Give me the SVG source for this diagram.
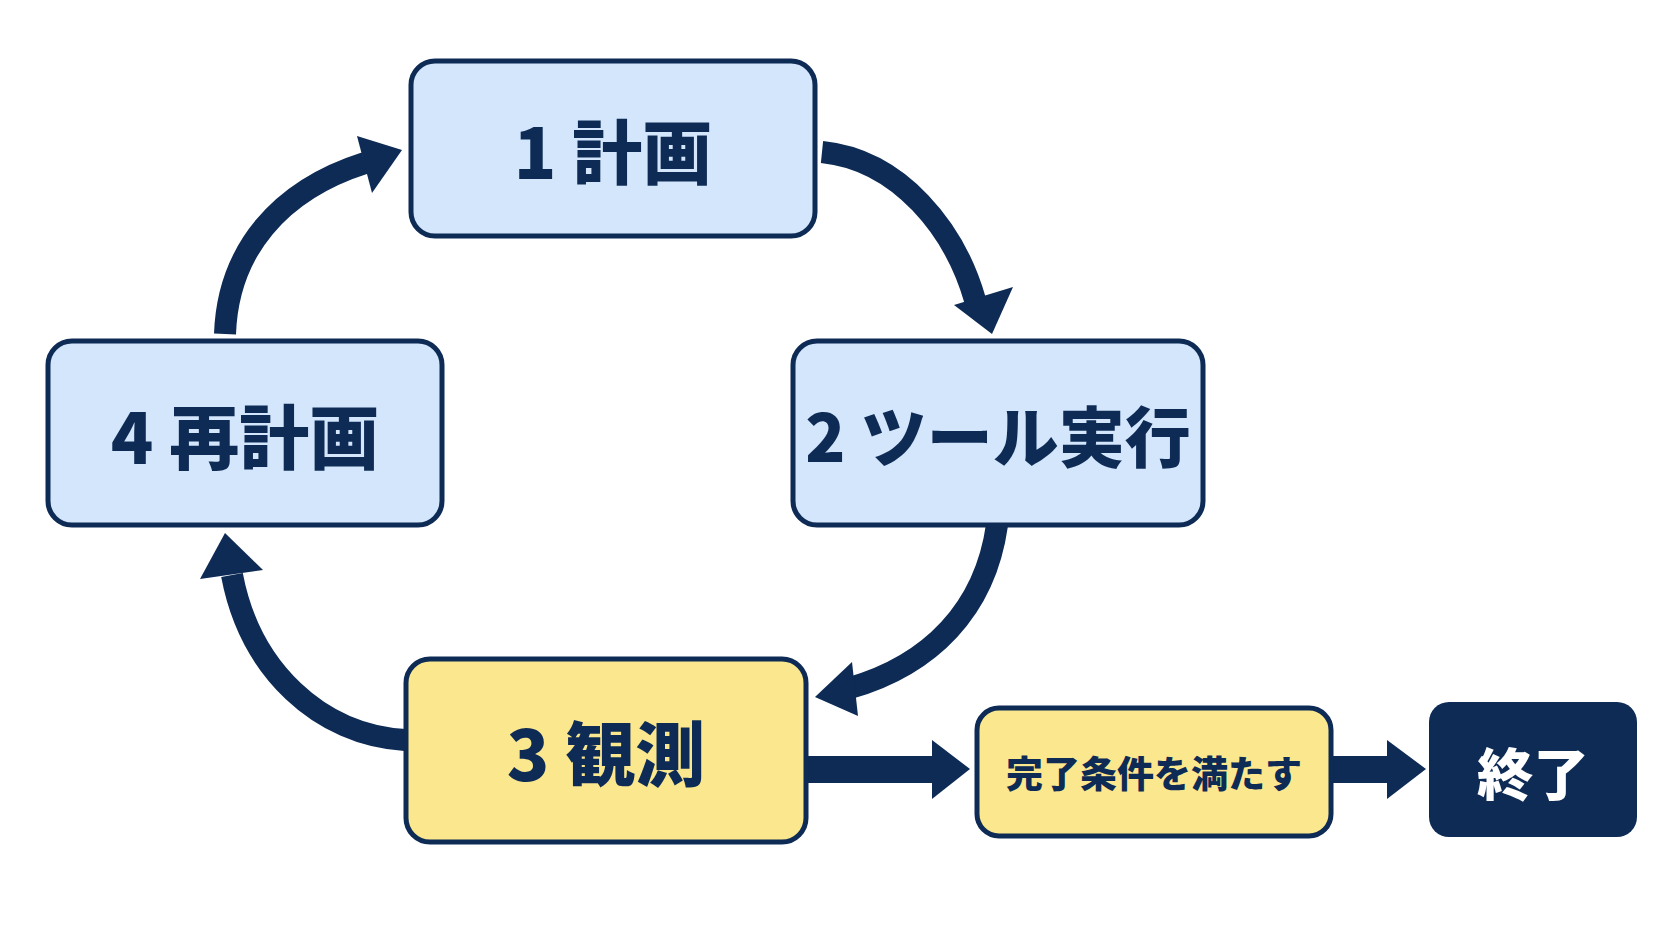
<svg xmlns="http://www.w3.org/2000/svg" width="1672" height="941" viewBox="0 0 1672 941">
<style>
.b{stroke:#0d2b55;stroke-width:5}
.blue{fill:#d3e6fb}.yel{fill:#fbe78e}
text{font-family:"Noto Sans CJK JP","Noto Sans",sans-serif;font-weight:900;fill:#0d2b55;text-anchor:middle;dominant-baseline:central}
.c{fill:none;stroke:#0d2b55;stroke-width:22}
.h{fill:#0d2b55}
</style>
<rect width="1672" height="941" fill="#fff"/>
<g id="connectors">
<path class="c" d="M822,152 C900,160 955,230 975,300"/>
<polygon class="h" points="954,305 1013,287 992,334"/>
<path class="c" d="M997,525 C985,610 930,665 850,688"/>
<polygon class="h" points="852,662 858,716 815,697"/>
<path class="c" d="M405,740 C320,735 250,670 232,575"/>
<polygon class="h" points="200,579 263,570 225,533"/>
<path class="c" d="M225,334 C228,250 280,190 365,163"/>
<polygon class="h" points="357,136 372,193 402,150"/>
<rect class="h" x="806" y="756" width="130" height="27"/>
<polygon class="h" points="932,740 932,799 970,769"/>
<rect class="h" x="1331" y="756" width="60" height="27"/>
<polygon class="h" points="1387,740 1387,799 1426,769"/>
</g>
<g id="n1"><rect class="b blue" x="411" y="61" width="404" height="175" rx="24"/><text x="613" y="148" font-size="70">1 計画</text></g>
<g id="n2"><rect class="b blue" x="793" y="341" width="410" height="184" rx="24"/><text x="998" y="433" font-size="66">2 ツール実行</text></g>
<g id="n4"><rect class="b blue" x="48" y="341" width="394" height="184" rx="24"/><text x="245" y="433" font-size="70">4 再計画</text></g>
<g id="n3"><rect class="b yel" x="406" y="659" width="400" height="183" rx="24"/><text x="606" y="750" font-size="70">3 観測</text></g>
<g id="n5"><rect class="b yel" x="977" y="708" width="354" height="128" rx="22"/><text x="1154" y="772" font-size="37">完了条件を満たす</text></g>
<g id="n6"><rect class="h" x="1429" y="702" width="208" height="135" rx="20"/><text x="1533" y="770" font-size="56" style="fill:#fff">終了</text></g>
</svg>
